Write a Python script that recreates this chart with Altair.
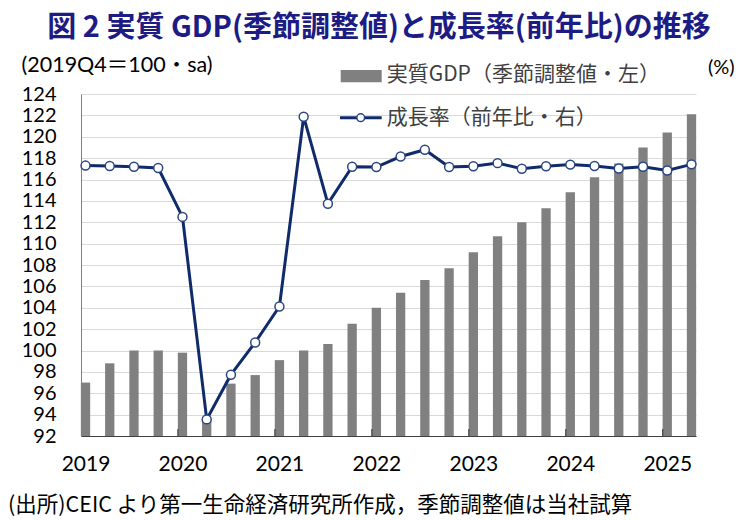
import altair as alt
import pandas as pd

quarters = [f"{y}Q{q}" for y in range(2019, 2026) for q in range(1, 5)][:26]
gdp = [97.0, 98.8, 100.0, 100.0, 99.8, 93.6, 96.9, 97.7, 99.1, 100.0, 100.6, 102.5,
       104.0, 105.4, 106.6, 107.7, 109.2, 110.7, 112.0, 113.3, 114.8, 116.2, 117.5,
       119.0, 120.4, 122.1]
yoy = [5.07, 5.05, 5.02, 4.97, 2.97, -5.32, -3.49, -2.17, -0.70, 7.07, 3.51, 5.02,
       5.01, 5.44, 5.72, 5.01, 5.04, 5.17, 4.94, 5.04, 5.11, 5.05, 4.95, 5.02,
       4.87, 5.12]
year_ticks = [q for q in quarters if q.endswith("Q1")]
left_ticks = list(range(92, 125, 2))
right_ticks = list(range(-6, 9, 2))

title_text = "図 2  実質 GDP(季節調整値)と成長率(前年比)の推移"
unit_left = "(2019Q4＝100・sa)"
unit_right = "(%)"
legend_bar = "実質GDP（季節調整値・左）"
legend_line = "成長率（前年比・右）"
footer = "(出所)CEIC より第一生命経済研究所作成，季節調整値は当社試算"

df = pd.DataFrame({"q": quarters, "gdp": gdp, "yoy": yoy})
df_ticks = pd.DataFrame({"q": year_ticks[1:]})

W, H = 615, 342
NUM_FONT = "Lato"
JP_FONT = "Noto Sans CJK JP"
NAVY = "#102B6A"

xscale = alt.Scale(type="point", domain=quarters, padding=0.186)
xaxis = alt.Axis(values=year_ticks, labelExpr="substring(datum.value, 0, 4)",
                 ticks=False, domainColor="#404040", domainWidth=1.2,
                 labelFont=NUM_FONT, labelFontSize=21, labelColor="#000000",
                 labelPadding=17, title=None, grid=False, labelAngle=0)

bars = alt.Chart(df).mark_bar(color="#808080", size=9.3).encode(
    x=alt.X("q:O", scale=xscale, axis=xaxis, sort=quarters),
    y=alt.Y("gdp:Q", scale=alt.Scale(domain=[92, 124], zero=False, nice=False),
            axis=alt.Axis(values=left_ticks, grid=True, gridColor="#D9D9D9",
                          ticks=False, domainColor="#808080", labelPadding=25,
                          labelFont=NUM_FONT, labelFontSize=20, labelColor="#000000",
                          title=None)),
    y2=alt.Y2(datum=92),
)

tickmarks = alt.Chart(df_ticks).mark_rule(color="#404040", strokeWidth=1.2, xOffset=-4.5).encode(
    x=alt.X("q:O", scale=xscale, sort=quarters),
    y=alt.value(H), y2=alt.value(H - 7),
)

left_layer = alt.layer(bars, tickmarks)

line = alt.Chart(df).mark_line(color=NAVY, strokeWidth=3).encode(
    x=alt.X("q:O", scale=xscale, sort=quarters),
    y=alt.Y("yoy:Q", scale=alt.Scale(domain=[-6, 8], nice=False, zero=False),
            axis=alt.Axis(orient="right", values=right_ticks, grid=False, ticks=False,
                          domainColor="#808080", labelPadding=24, labelAlign="left",
                          labelFont=NUM_FONT, labelFontSize=21,
                          labelColor={"condition": {"test": "datum.value < 0", "value": "#FF0000"},
                                      "value": "#000000"},
                          title=None)),
)
pts = alt.Chart(df).mark_point(filled=True, fill="white", stroke="#2A4682", strokeWidth=1.5,
                               size=80, opacity=1).encode(
    x=alt.X("q:O", scale=xscale, sort=quarters),
    y=alt.Y("yoy:Q", scale=alt.Scale(domain=[-6, 8], nice=False, zero=False), axis=None),
)
right_layer = alt.layer(line, pts)

one = pd.DataFrame({"a": [0]})


def txt(t, x, y, size, font, color="#000000", bold=False, align="left"):
    return alt.Chart(pd.DataFrame({"t": [t]})).mark_text(
        align=align, baseline="middle", fontSize=size, font=font,
        fontWeight="bold" if bold else "normal", color=color,
    ).encode(text="t:N", x=alt.value(x), y=alt.value(y))


title = txt(title_text, 298, -66, 29, JP_FONT, color="#1C1C84", bold=True, align="center")
cap_l = txt(unit_left, -59.5, -28, 21.5, f"{NUM_FONT}, '{JP_FONT}'")
cap_r = txt(unit_right, 627, -26, 20, NUM_FONT)
leg1 = txt(legend_bar, 305.7, -19, 21, JP_FONT, color="#404040")
leg2 = txt(legend_line, 305.7, 24, 21, JP_FONT, color="#404040")
foot = txt(footer, -73, 412, 21.5, JP_FONT)

leg_rect = alt.Chart(one).mark_rect(color="#808080").encode(
    x=alt.value(259.7), x2=alt.value(300.7), y=alt.value(-24), y2=alt.value(-11.7))
leg_line = alt.Chart(one).mark_rule(color=NAVY, strokeWidth=3).encode(
    x=alt.value(259), x2=alt.value(300.7), y=alt.value(23.7))
leg_pt = alt.Chart(one).mark_point(filled=True, fill="white", stroke="#2A4682", strokeWidth=1.5,
                                   size=60, opacity=1).encode(
    x=alt.value(279.7), y=alt.value(23.7))

chart = alt.layer(
    left_layer, right_layer, title, cap_l, cap_r, leg_rect, leg_line, leg_pt, leg1, leg2, foot
).resolve_scale(y="independent").properties(
    width=W, height=H,
    autosize=alt.AutoSizeParams(type="none"),
    padding={"left": 73, "top": 86, "right": 43, "bottom": 84},
    background="white",
).configure_view(stroke=None)

chart.save("out.html", embed_options={"renderer": "svg", "actions": False})
